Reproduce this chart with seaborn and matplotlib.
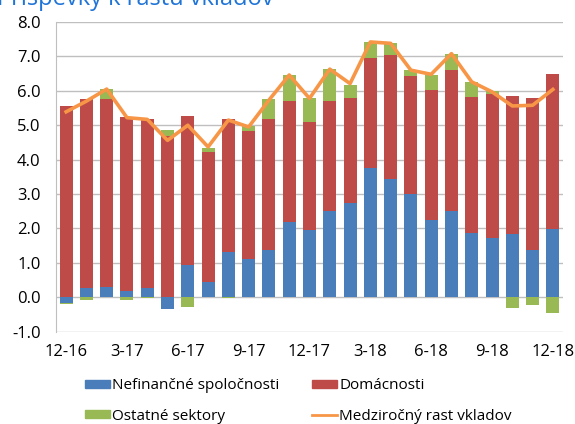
import numpy as np
import pandas as pd
import matplotlib
matplotlib.use("Agg")
import matplotlib.pyplot as plt
import seaborn as sns
from matplotlib.patches import Patch
from matplotlib.lines import Line2D

months = ["12-16", "1-17", "2-17", "3-17", "4-17", "5-17", "6-17", "7-17", "8-17",
          "9-17", "10-17", "11-17", "12-17", "1-18", "2-18", "3-18", "4-18", "5-18",
          "6-18", "7-18", "8-18", "9-18", "10-18", "11-18", "12-18"]
nefin = [-0.17, 0.26, 0.31, 0.18, 0.28, -0.35, 0.95, 0.45, 1.33, 1.12, 1.36, 2.19, 1.96,
         2.52, 2.74, 3.76, 3.43, 2.99, 2.25, 2.52, 1.87, 1.73, 1.83, 1.37, 1.99]
domac = [5.56, 5.50, 5.45, 5.07, 4.90, 4.68, 4.32, 3.77, 3.84, 3.71, 3.83, 3.52, 3.14,
         3.18, 3.04, 3.20, 3.62, 3.43, 3.78, 4.08, 3.96, 4.17, 4.02, 4.41, 4.51]
ostat = [-0.03, -0.08, 0.29, -0.08, -0.02, 0.19, -0.29, 0.13, -0.02, 0.14, 0.57, 0.75, 0.70,
         0.93, 0.40, 0.46, 0.35, 0.18, 0.44, 0.48, 0.43, 0.10, -0.31, -0.21, -0.47]
rast = [5.39, 5.70, 6.05, 5.22, 5.17, 4.56, 5.00, 4.37, 5.15, 4.95, 5.73, 6.46, 5.78,
        6.63, 6.21, 7.42, 7.38, 6.60, 6.48, 7.08, 6.26, 5.97, 5.56, 5.58, 6.04]
tick_labels = ["12-16", "3-17", "6-17", "9-17", "12-17", "3-18", "6-18", "9-18", "12-18"]

c_blue = "#4A7EBB"
c_red = "#BE4B48"
c_green = "#98B954"
c_orange = "#F79646"

plt.rcParams["font.family"] = ["Open Sans", "DejaVu Sans"]

fig = plt.figure(figsize=(5.75, 4.24), dpi=100)
ax = fig.add_axes([56 / 575, 1 - 331.7 / 424, (563 - 56) / 575, (331.7 - 22) / 424])

nb = np.array(nefin)
dm = np.array(domac)
ot = np.array(ostat)
pos_top = np.maximum(nb, 0)
neg_bot = np.minimum(nb, 0)
bot_blue = np.zeros(len(nb))
bot_red = pos_top
pos_top2 = pos_top + np.maximum(dm, 0)
bot_green = np.where(ot >= 0, pos_top2, neg_bot)

df = pd.DataFrame({"m": months, "nefin": nb, "domac": dm, "ostat": ot, "rast": rast})
w = 0.64
sns.barplot(data=df, x="m", y="nefin", color=c_blue, width=w, ax=ax, saturation=1, bottom=bot_blue)
sns.barplot(data=df, x="m", y="domac", color=c_red, width=w, ax=ax, saturation=1, bottom=bot_red)
sns.barplot(data=df, x="m", y="ostat", color=c_green, width=w, ax=ax, saturation=1, bottom=bot_green)
sns.lineplot(x=np.arange(len(months)), y=df["rast"].values, color=c_orange, lw=2.6, ax=ax)

ax.set_xlim(-0.5, len(months) - 0.5)
ax.set_ylim(-1, 8)
ax.set_yticks(np.arange(-1, 9, 1))
ax.set_yticklabels([f"{v:.1f}" for v in np.arange(-1, 9, 1)], fontsize=12)
ax.set_xticks(np.arange(0, len(months), 3))
ax.set_xticklabels(tick_labels, fontsize=12)
ax.tick_params(axis="y", length=0, pad=11)
ax.tick_params(axis="x", length=0, pad=9)
ax.set_xlabel("")
ax.set_ylabel("")
ax.set_axisbelow(True)
ax.yaxis.grid(True, color="#BFBFBF", lw=1)
ax.xaxis.grid(False)
for s in ["top", "right", "bottom"]:
    ax.spines[s].set_visible(False)
ax.spines["left"].set_color("#BFBFBF")

handles = [Patch(color=c_blue), Patch(color=c_green), Patch(color=c_red),
           Line2D([], [], color=c_orange, lw=2)]
labels = ["Nefinančné spoločnosti", "Ostatné sektory", "Domácnosti", "Medziročný rast vkladov"]
fig.legend(handles, labels, ncol=2, loc="center", bbox_to_anchor=(0.519, 0.054),
           frameon=False, fontsize=11, handlelength=1.63, handleheight=0.4,
           columnspacing=2.15, labelspacing=1.0, handletextpad=0.15)

fig.text(-0.005, 1 - 5 / 424, "Príspevky k rastu vkladov", color="#1F74D8",
         fontsize=17, va="baseline", ha="left")

fig.savefig("out.png", dpi=100)
